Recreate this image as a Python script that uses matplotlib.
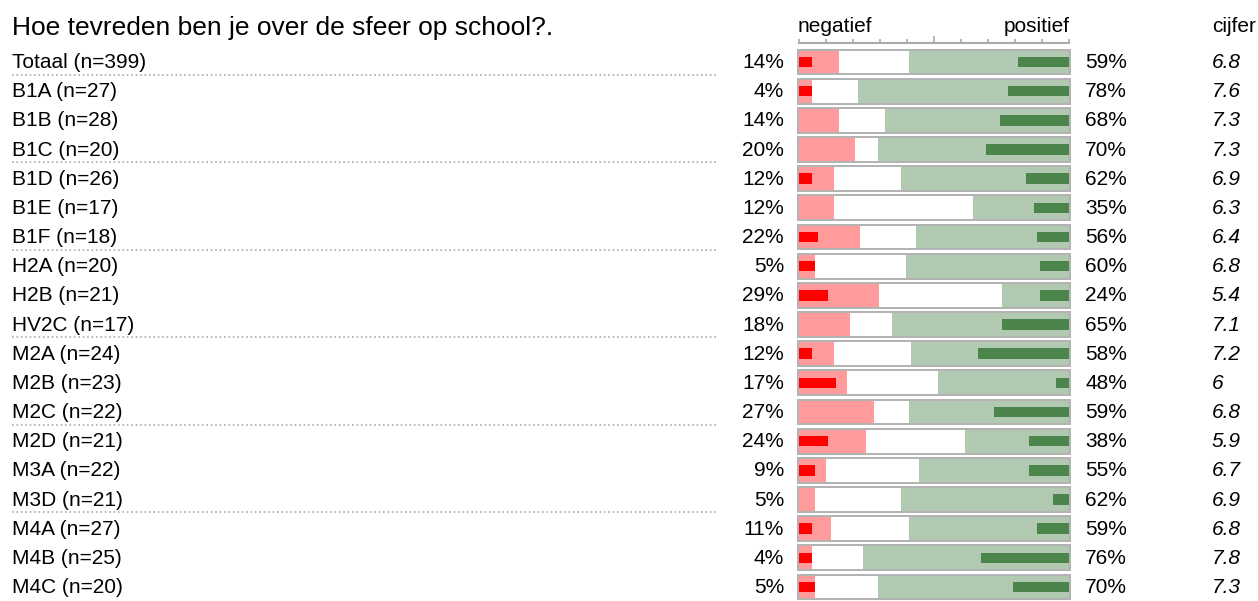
import matplotlib
matplotlib.use('Agg')
import matplotlib.pyplot as plt
from matplotlib.transforms import blended_transform_factory

plt.rcParams['font.family'] = ['Liberation Sans', 'DejaVu Sans']

title = 'Hoe tevreden ben je over de sfeer op school?.'
groups = ['Totaal (n=399)', 'B1A (n=27)', 'B1B (n=28)', 'B1C (n=20)', 'B1D (n=26)',
          'B1E (n=17)', 'B1F (n=18)', 'H2A (n=20)', 'H2B (n=21)', 'HV2C (n=17)',
          'M2A (n=24)', 'M2B (n=23)', 'M2C (n=22)', 'M2D (n=21)', 'M3A (n=22)',
          'M3D (n=21)', 'M4A (n=27)', 'M4B (n=25)', 'M4C (n=20)']
# bar lengths (labels show the whole percent)
neg = [14.8, 4.9, 14.8, 20.8, 12.9, 12.9, 22.7, 5.9, 29.7, 18.8,
       12.9, 17.8, 27.7, 24.7, 9.9, 5.9, 11.9, 4.9, 5.9]
pos = [59.4, 78.2, 68.2, 70.6, 62.4, 35.6, 56.5, 60.4, 24.7, 65.4,
       58.4, 48.5, 59.4, 38.7, 55.4, 62.4, 59.4, 76.2, 70.6]
neg_strong = [4.9, 4.9, 0, 0, 4.9, 0, 6.9, 5.9, 10.9, 0,
              4.9, 13.8, 0, 10.9, 5.9, 0, 4.9, 4.9, 5.9]
pos_strong = [18.8, 22.7, 25.7, 30.7, 15.8, 12.9, 11.9, 10.9, 10.9, 24.7,
              33.6, 4.9, 27.7, 14.8, 14.8, 5.9, 11.9, 32.6, 20.8]
grades = ['6.8', '7.6', '7.3', '7.3', '6.9', '6.3', '6.4', '6.8', '5.4', '7.1',
          '7.2', '6', '6.8', '5.9', '6.7', '6.9', '6.8', '7.8', '7.3']
separators = [0, 3, 6, 9, 12, 15]

W, H = 1258, 601
fig = plt.figure(figsize=(W / 100, H / 100), dpi=100)
ax = fig.add_axes([799 / W, 0, 270 / W, 558 / H])
y = list(range(len(groups)))

ax.barh(y, 101.8, left=-0.9, height=0.92, color='#b3b3b3', clip_on=False)
ax.barh(y, 100, left=0, height=0.78, color='white')
ax.barh(y, neg, left=0, height=0.78, color='#ff9b9b')
ax.barh(y, pos, left=[100 - p for p in pos], height=0.78, color='#b1c9b1')
ax.barh(y, neg_strong, left=0, height=0.36, color='#ff0000')
ax.barh(y, pos_strong, left=[100 - p for p in pos_strong], height=0.36, color='#4b854b')

ax.set_xlim(0, 100)
ax.set_ylim(18.48, -0.651)
for s in ['left', 'right', 'bottom']:
    ax.spines[s].set_visible(False)
ax.spines['top'].set_color('#aaaaaa')
ax.spines['top'].set_linewidth(1.5)
ax.xaxis.set_ticks_position('top')
ax.set_xticks([50])
ax.set_xticks([0, 10, 20, 30, 40, 60, 70, 80, 90, 100], minor=True)
ax.tick_params(axis='x', which='major', direction='out', length=5, width=1.2,
               colors='#aaaaaa', labeltop=False)
ax.tick_params(axis='x', which='minor', direction='out', length=3, width=1.2,
               colors='#aaaaaa', labeltop=False)
ax.set_yticks([])

tr = blended_transform_factory(fig.transFigure, ax.transData)
fs = 15
dy = 0.02
for i in y:
    ax.text(12 / W, i + dy, groups[i], transform=tr, ha='left', va='center', fontsize=fs)
    ax.text(784 / W, i + dy, '%d%%' % int(neg[i]), transform=tr, ha='right', va='center', fontsize=fs)
    ax.text(1085 / W, i + dy, '%d%%' % int(pos[i]), transform=tr, ha='left', va='center', fontsize=fs)
    ax.text(1212 / W, i + dy, grades[i], transform=tr, ha='left', va='center', fontsize=fs,
            style='italic')
for i in separators:
    ax.plot([12 / W, 718 / W], [i + 0.43, i + 0.43], transform=tr, ls=':', color='#aaaaaa',
            lw=1.2, clip_on=False)

fig.text(12 / W, 1 - 28 / H, title, ha='left', va='center', fontsize=19)
fig.text(798 / W, 1 - 27 / H, 'negatief', ha='left', va='center', fontsize=fs)
fig.text(1070 / W, 1 - 27 / H, 'positief', ha='right', va='center', fontsize=fs)
fig.text(1212 / W, 1 - 27 / H, 'cijfer', ha='left', va='center', fontsize=fs)

fig.savefig('out.png', dpi=100)
